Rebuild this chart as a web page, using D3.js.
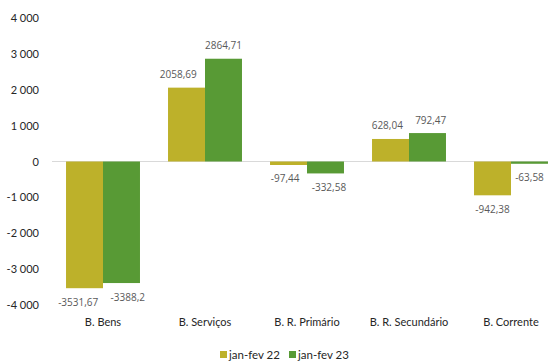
<!DOCTYPE html>
<html>
<head>
<meta charset="utf-8">
<script src="https://cdn.jsdelivr.net/npm/d3@7"></script>
<style>
  html, body { margin: 0; padding: 0; background: #fff; }
  svg { display: block; font-family: "Lato", "Open Sans", sans-serif; }
</style>
</head>
<body>
<svg id="chart" width="558" height="362"></svg>
<script>
// Balança corrente: jan-fev 22 vs jan-fev 23
const categories = ["B. Bens", "B. Serviços", "B. R. Primário", "B. R. Secundário", "B. Corrente"];
const seriesNames = ["jan-fev 22", "jan-fev 23"];
const values22 = [-3531.67, 2058.69, -97.44, 628.04, -942.38];
const values23 = [-3388.2, 2864.71, -332.58, 792.47, -63.58];
const yTicks = [-4000, -3000, -2000, -1000, 0, 1000, 2000, 3000, 4000];
const colors = ["#BDB12A", "#589A35"];

const svg = d3.select("#chart");

const x = d3.scaleBand()
  .domain(categories)
  .range([52, 562])
  .paddingInner(0.275)
  .paddingOuter(0.1375);

const xSub = d3.scaleBand()
  .domain(seriesNames)
  .range([0, x.bandwidth()]);

const y = d3.scaleLinear()
  .domain([-4000, 4000])
  .range([305, 18]);

const fmtTick = v => {
  const s = d3.format(",")(Math.abs(v)).replace(/,/g, " ");
  return (v < 0 ? "-" : "") + s;
};
const fmtLabel = v => String(v).replace(".", ",");

// Y axis labels (no axis line)
const yAxis = d3.axisLeft(y).tickValues(yTicks).tickFormat(fmtTick).tickSize(0).tickPadding(0);
const gy = svg.append("g").attr("transform", "translate(39,0)").call(yAxis);
gy.select(".domain").remove();
gy.selectAll("text")
  .attr("fill", "#262626")
  .style("font-size", "11px")
  .style("font-family", "Lato, 'Open Sans', sans-serif");

// Zero line
svg.append("line")
  .attr("x1", 52).attr("x2", 548)
  .attr("y1", y(0)).attr("y2", y(0))
  .attr("stroke", "#d9d9d9").attr("stroke-width", 1);

// Bars and value labels
const series = [values22, values23];
const labelNodes = categories.map(() => []);
const barNodes = categories.map(() => []);
series.forEach((vals, si) => {
  const g = svg.append("g");
  g.selectAll("rect")
    .data(vals)
    .join("rect")
    .attr("x", (d, i) => x(categories[i]) + xSub(seriesNames[si]))
    .attr("width", xSub.bandwidth())
    .attr("y", d => Math.min(y(d), y(0)))
    .attr("height", d => Math.abs(y(d) - y(0)))
    .attr("fill", colors[si])
    .each(function (d, i) { barNodes[i][si] = this; });

  g.selectAll("text")
    .data(vals)
    .join("text")
    .attr("x", (d, i) => x(categories[i]) + xSub(seriesNames[si]) + xSub.bandwidth() / 2)
    .attr("y", d => d >= 0 ? y(d) - 13 : y(d) + 14)
    .attr("dy", "0.35em")
    .attr("text-anchor", "middle")
    .attr("fill", "#595959")
    .style("font-size", "10px")
    .style("font-family", "'Open Sans', sans-serif")
    .text(d => fmtLabel(d))
    .each(function (d, i) { labelNodes[i][si] = this; });
});

const intersects = (p, q) =>
  p.x < q.x + q.width && q.x < p.x + p.width &&
  p.y < q.y + q.height && q.y < p.y + p.height;

const shift = (node, dx) => node.setAttribute("x", +node.getAttribute("x") + dx);

// Keep labels clear of the neighbouring bar and of each other
labelNodes.forEach(([a, b], i) => {
  const [barA, barB] = barNodes[i];
  const clear = 8;
  const ba = a.getBBox(), rb = barB.getBBox();
  if (rb.height > 0 && intersects(ba, rb)) shift(a, rb.x - clear - (ba.x + ba.width));
  const bb = b.getBBox(), ra = barA.getBBox();
  if (ra.height > 0 && intersects(bb, ra)) shift(b, ra.x + ra.width + clear - bb.x);

  const pa = a.getBBox(), pb = b.getBBox();
  const vOverlap = pa.y < pb.y + pb.height && pb.y < pa.y + pa.height;
  const gap = 12;
  const hOverlap = pa.x + pa.width + gap - pb.x;
  if (vOverlap && hOverlap > 0) {
    shift(a, -hOverlap / 2);
    shift(b, hOverlap / 2);
  }
});

// Category labels
svg.append("g")
  .selectAll("text")
  .data(categories)
  .join("text")
  .attr("x", d => x(d) + x.bandwidth() / 2)
  .attr("y", 322)
  .attr("dy", "0.35em")
  .attr("text-anchor", "middle")
  .attr("fill", "#262626")
  .style("font-size", "11px")
  .text(d => d);

// Legend
const legend = svg.append("g").attr("transform", "translate(220,355)");
const legendX = [0, 69];
seriesNames.forEach((name, i) => {
  const lg = legend.append("g").attr("transform", `translate(${legendX[i]},0)`);
  lg.append("rect").attr("x", 0).attr("y", -4).attr("width", 7).attr("height", 7).attr("fill", colors[i]);
  lg.append("text")
    .attr("x", 9).attr("y", 0).attr("dy", "0.35em")
    .attr("fill", "#262626")
    .style("font-size", "11.5px")
    .text(name);
});
</script>
</body>
</html>
